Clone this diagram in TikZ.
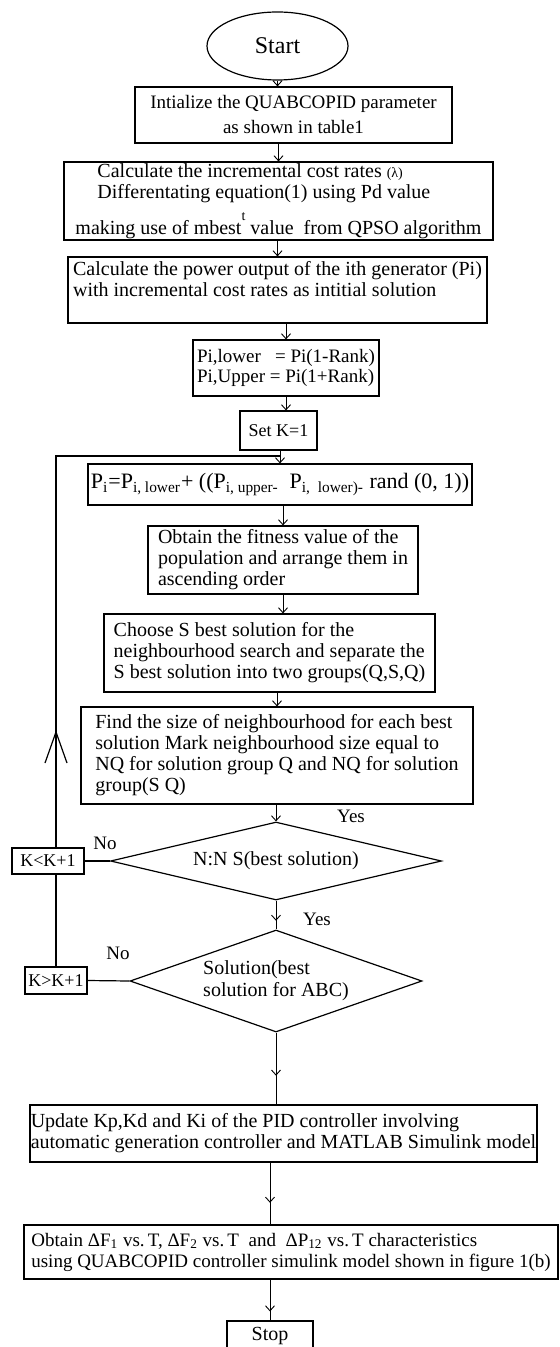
\documentclass[tikz,border=0pt]{standalone}
\usepackage{fontspec}
\setmainfont{Liberation Serif}
\usetikzlibrary{shapes.geometric,arrows.meta,decorations.markings}

\tikzset{
  box/.style={draw, line width=0.6pt, rectangle, inner sep=0pt, align=left,
    font=\fontsize{10}{10.5}\selectfont},
  decision/.style={draw, line width=0.6pt, diamond, inner sep=0pt,
    font=\fontsize{10}{11}\selectfont},
  terminal/.style={draw, line width=0.6pt, ellipse, inner sep=0pt},
  flow/.style={line width=0.45pt, -{Straight Barb[length=2.5pt,width=4.5pt]}},
  midflow/.style={line width=0.45pt, postaction={decorate},
    decoration={markings, mark=at position #1 with {\arrow{Straight Barb[length=2.5pt,width=4.5pt]}}}},
  lbl/.style={font=\fontsize{9.5}{10.5}\selectfont, inner sep=0pt}
}

\begin{document}
\begin{tikzpicture}[x=0.5pt, y=-0.5pt]
\useasboundingbox (0,0) rectangle (559,1347);

% Main column
\node[terminal, minimum width=70.5pt, minimum height=34pt, font=\fontsize{12}{14}\selectfont] (start) at (277.5,46) {Start};
\node[box, align=center, minimum width=158.5pt, minimum height=28pt, font=\fontsize{9.5}{12.5}\selectfont] (init) at (293.5,115)
  {Intialize the QUABCOPID parameter\\as shown in table1};
\node[box, minimum width=214.5pt, minimum height=39pt] (calc) at (278.5,201)
  {\hspace*{11pt}Calculate the incremental cost rates {\scriptsize(λ)}\\
   \hspace*{11pt}Differentating equation(1) using Pd value\\[4pt]
   making use of mbest\raisebox{7pt}{\scriptsize t}~value~~from QPSO algorithm};
\node[box, minimum width=209.5pt, minimum height=33pt] (power) at (277.5,290)
  {Calculate the power output of the ith generator (Pi)\\with incremental cost rates as intitial solution\\[1pt]\mbox{}};
\node[box, minimum width=93pt, minimum height=28pt, font=\fontsize{9.5}{10}\selectfont] (rank) at (286,368)
  {Pi,lower~~~= Pi(1-Rank)\\Pi,Upper = Pi(1+Rank)};
\node[box, minimum width=38.5pt, minimum height=19.5pt, font=\fontsize{9}{10}\selectfont] (setk) at (278.5,430.5) {Set K=1};
\node[box, minimum width=192pt, minimum height=20.5pt, font=\fontsize{11}{13}\selectfont] (pirand) at (280,484.5)
  {P\textsubscript{i}=P\textsubscript{i, lower}+ ((P\textsubscript{i, upper-}~~P\textsubscript{i,~ lower)-} rand (0, 1))};
\node[box, minimum width=135pt, minimum height=34pt] (fitness) at (283,560)
  {Obtain the fitness value of the\\population and arrange them in\\ascending order};
\node[box, minimum width=165.5pt, minimum height=39pt] (choose) at (269.5,653)
  {Choose S best solution for the\\neighbourhood search and separate the\\S best solution into two groups(Q,S,Q)};
\node[box, minimum width=196pt, minimum height=48.5pt] (find) at (277,755.5)
  {Find the size of neighbourhood for each best\\solution Mark neighbourhood size equal to\\NQ for solution group Q and NQ for solution\\group(S Q)};
\node[decision, aspect=4, minimum width=165.5pt, minimum height=39pt] (dia1) at (276,861) {N:N S(best solution)};
\node[decision, aspect=2.9, align=left, minimum width=146pt, minimum height=51pt] (dia2) at (276,981)
  {Solution(best\\solution for ABC)};
\node[box, minimum width=253.5pt, minimum height=28.5pt] (update) at (283.5,1133.5)
  {Update Kp,Kd and Ki of the PID controller involving\\automatic generation controller and MATLAB Simulink model};
\node[box, minimum width=267pt, minimum height=27pt, font=\fontsize{9.5}{10.5}\selectfont] (obtain) at (291,1252)
  {Obtain ΔF\textsubscript{1} vs.\,T, ΔF\textsubscript{2} vs.\,T~ and~ ΔP\textsubscript{12} vs.\,T characteristics\\using QUABCOPID controller simulink model shown in figure 1(b)};
\node[box, minimum width=43pt, minimum height=14.5pt, font=\fontsize{10}{12}\selectfont] (stop) at (270,1335.5) {Stop};

% Counter boxes on the left
\node[box, minimum width=36pt, minimum height=13pt, font=\fontsize{9}{10}\selectfont] (klt) at (48,861) {K<K+1};
\node[box, minimum width=31pt, minimum height=13.5pt, font=\fontsize{9}{10}\selectfont] (kgt) at (56,980.5) {K>K+1};

% Labels
\node[lbl] (yes1) at (351,816) {Yes};
\node[lbl] (yes2) at (317,919) {Yes};
\node[lbl] (no1) at (105,843) {No};
\node[lbl] (no2) at (118,953) {No};

% Flow arrows
\draw[flow] (start.south) -- (start.south |- init.north);
\draw[flow] (calc.north |- init.south) -- (calc.north);
\draw[flow] (power.north |- calc.south) -- (power.north);
\draw[flow] (rank.north |- power.south) -- (rank.north);
\draw[flow] (rank.south) -- (rank.south |- setk.north);
\draw[flow] (pirand.north |- setk.south) -- (pirand.north);
\draw[flow] (fitness.north |- pirand.south) -- (fitness.north);
\draw[flow] (fitness.south) -- (fitness.south |- choose.north);
\draw[flow] (find.north |- choose.south) -- (find.north);
\draw[flow] (dia1.north |- find.south) -- (dia1.north);
\draw[midflow=0.7] (dia1.south) -- (dia2.north);
\draw[midflow=0.6] (dia2.south) -- (dia2.south |- update.north);
\draw[midflow=0.65] (stop.north |- update.south) -- (stop.north |- obtain.north);
\draw[midflow=0.78] (stop.north |- obtain.south) -- (stop.north);

% Loop back
\coordinate (loop) at (280,456);
\coordinate (uptip) at (56,732);
\draw[line width=0.6pt] (dia1.west) -- (klt.east);
\draw[line width=0.6pt] (dia2.west) -- (kgt.east);
\draw[line width=0.6pt] (kgt.north) -- (kgt.north |- klt.south);
\draw[line width=0.6pt] (kgt.north |- klt.north) -- (kgt.north |- loop) -- (loop);
\draw[line width=0.6pt] ([shift={(-11,31)}]uptip) -- (uptip) -- ([shift={(11,31)}]uptip);
\end{tikzpicture}
\end{document}
